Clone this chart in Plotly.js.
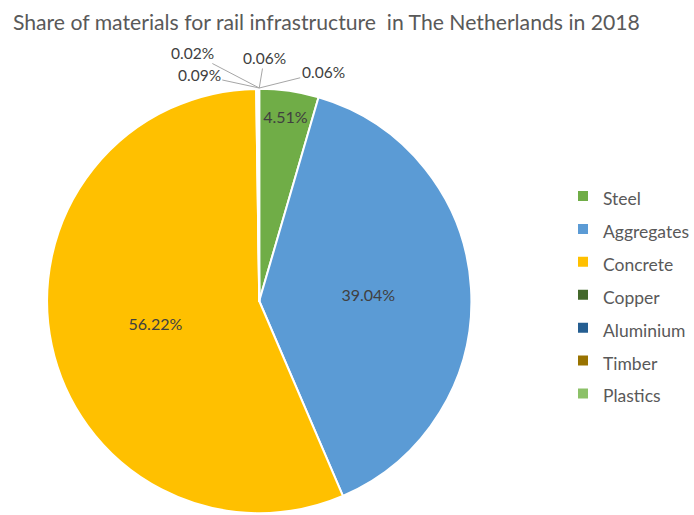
<!DOCTYPE html>
<html>
<head>
<meta charset="utf-8">
<script src="https://cdn.plot.ly/plotly-3.0.1.min.js"></script>
<style>html,body{margin:0;padding:0;background:#fff;}#chart{width:694px;height:515px;}</style>
</head>
<body>
<div id="chart"></div>
<script>
const categories = ["Steel", "Aggregates", "Concrete", "Copper", "Aluminium", "Timber", "Plastics"];
const shares = [4.51, 39.04, 56.22, 0.06, 0.06, 0.02, 0.09];
const colors = ["#70AD47", "#5B9BD5", "#FFC000", "#43682B", "#255E91", "#997300", "#8CC168"];
const titleText = "Share of materials for rail infrastructure\u00a0 in The Netherlands in 2018";

const W = 694, H = 515;
const cx = 261.5, cy = 301, R = 214;
const domX = [(cx - R) / W, (cx + R) / W];
const domY = [(H - cy - R) / H, (H - cy + R) / H];

const smallThreshold = 1;
const texts = shares.map(v => v >= smallThreshold ? v.toFixed(2) + "%" : "");

// offsets (px) of small-slice callouts relative to the top of the pie
const calloutOffsets = [[64, -16], [5, -30], [-67, -35], [-60, -13]];
const annotations = [];
let k = 0;
shares.forEach((v, i) => {
  if (v < smallThreshold) {
    const off = calloutOffsets[k++];
    annotations.push({
      xref: "paper", yref: "paper",
      x: cx / W, y: (H - cy + R - 1) / H,
      text: v.toFixed(2) + "%",
      showarrow: true, arrowhead: 0, arrowwidth: 1, arrowcolor: "#A6A6A6",
      ax: off[0], ay: off[1], standoff: 0,
      font: {family: "Lato, sans-serif", size: 15.5, color: "#404040"}
    });
  }
});

const trace = {
  type: "pie",
  labels: categories.map(c => '<span style="font-size:17.5px">' + c + '</span>'),
  values: shares,
  sort: false,
  direction: "clockwise",
  rotation: 0,
  marker: {colors: colors, line: {color: "#FFFFFF", width: 2}},
  text: texts,
  textinfo: "text",
  textposition: "inside",
  insidetextorientation: "horizontal",
  insidetextfont: {family: "Lato, sans-serif", size: 16, color: "#404040"},
  domain: {x: domX, y: domY},
  hoverinfo: "label+value"
};

const layout = {
  width: W, height: H,
  margin: {l: 0, r: 0, t: 0, b: 0},
  paper_bgcolor: "#FFFFFF",
  title: {
    text: titleText,
    font: {family: "Lato, sans-serif", size: 21.2, color: "#595959"},
    x: 13 / W, xanchor: "left", xref: "paper",
    y: 1 - 23 / H, yanchor: "middle", yref: "paper"
  },
  showlegend: true,
  legend: {
    x: 568 / W, xanchor: "left",
    y: 0.661, yanchor: "top",
    font: {family: "Lato, sans-serif", size: 23, color: "#595959"},
    bgcolor: "rgba(0,0,0,0)"
  },
  annotations: annotations
};

Plotly.newPlot("chart", [trace], layout, {displayModeBar: false, staticPlot: true});
</script>
</body>
</html>
